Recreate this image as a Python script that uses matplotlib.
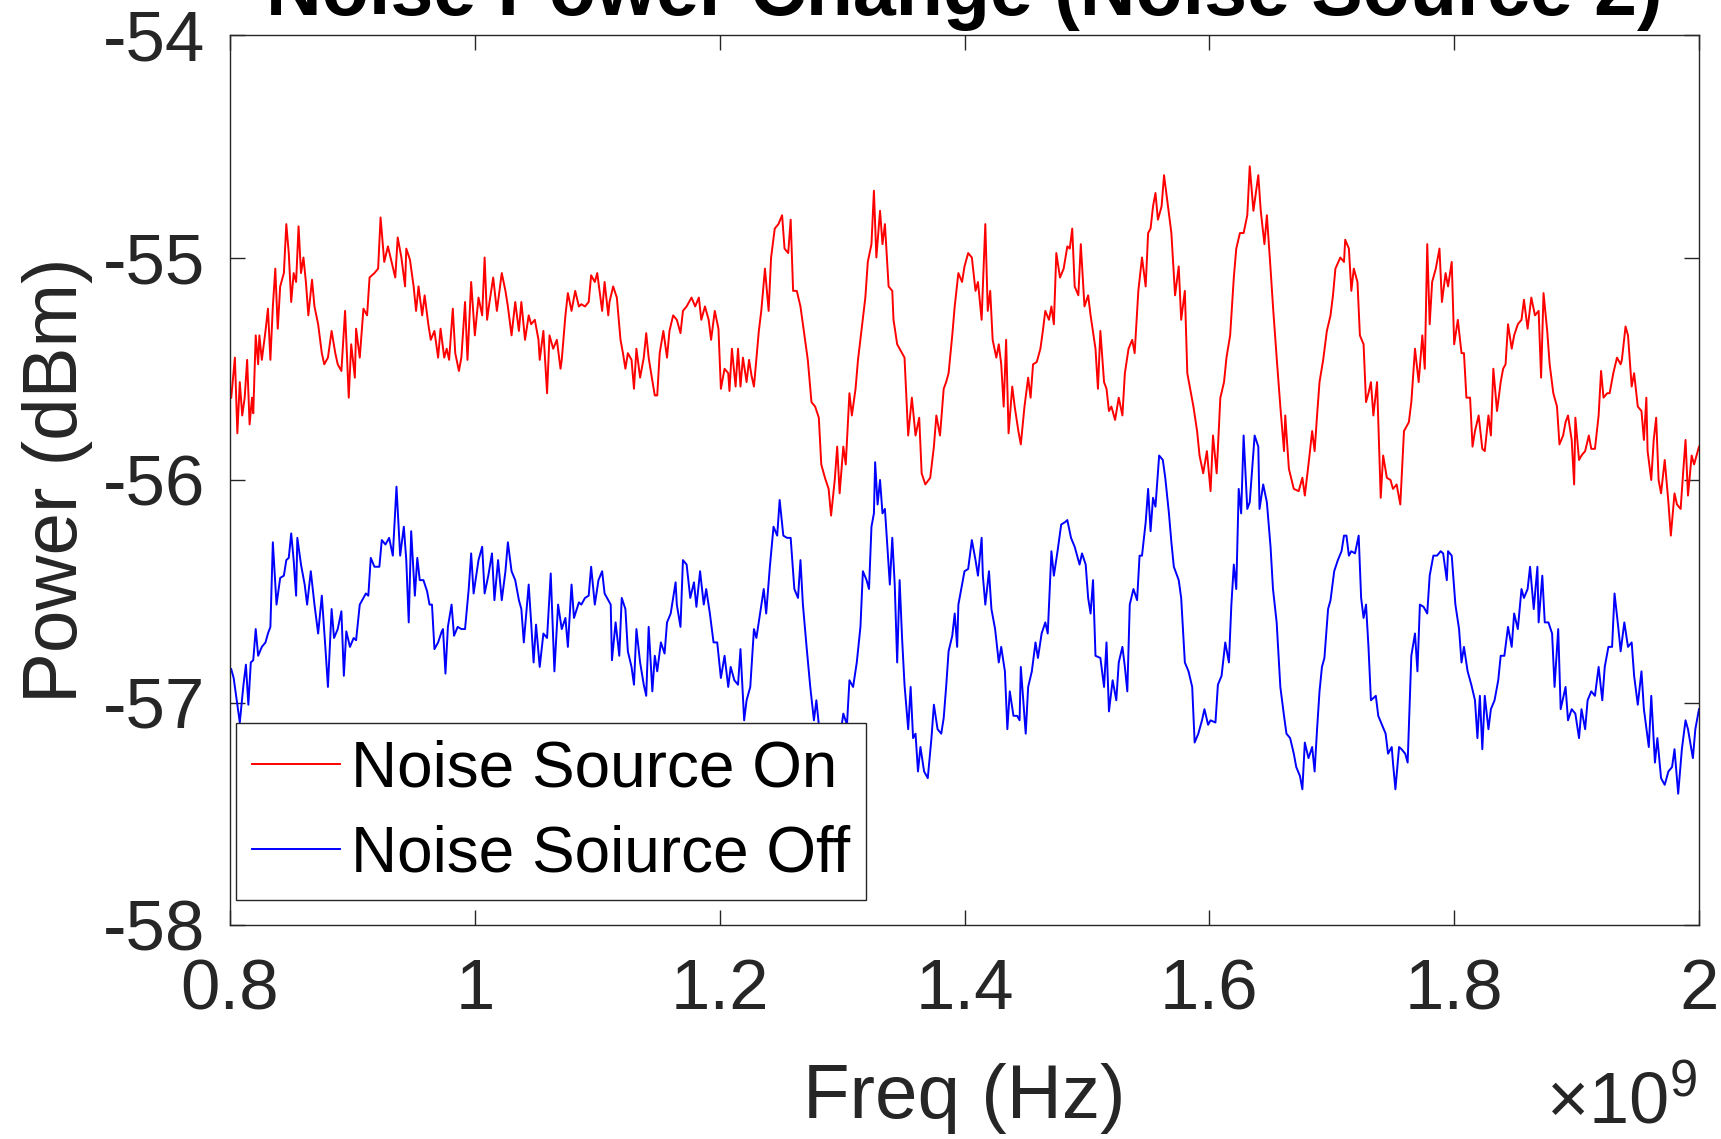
import numpy as np
import matplotlib.pyplot as plt
from matplotlib.ticker import FuncFormatter

plt.rcParams['font.family'] = ['Liberation Sans', 'DejaVu Sans']
plt.rcParams['mathtext.fontset'] = 'custom'
plt.rcParams['mathtext.rm'] = 'Liberation Sans'

# frecuencias en GHz (se pasan a Hz al graficar), potencia en dBm
freq_on = [
    0.801, 0.804, 0.806, 0.808, 0.810, 0.812, 0.814, 0.816, 0.818, 0.819, 0.821, 0.823, 0.824, 0.826, 0.829,
    0.831, 0.833, 0.835, 0.837, 0.839, 0.841, 0.844, 0.846, 0.848, 0.850, 0.852, 0.854, 0.856, 0.858, 0.860,
    0.862, 0.864, 0.867, 0.869, 0.872, 0.875, 0.877, 0.880, 0.883, 0.886, 0.888, 0.891, 0.894, 0.897, 0.899,
    0.902, 0.903, 0.906, 0.909, 0.912, 0.914, 0.918, 0.921, 0.923, 0.926, 0.929, 0.932, 0.935, 0.937, 0.940,
    0.943, 0.944, 0.947, 0.950, 0.952, 0.954, 0.957, 0.959, 0.962, 0.964, 0.967, 0.970, 0.972, 0.975, 0.977,
    0.979, 0.982, 0.984, 0.987, 0.989, 0.992, 0.994, 0.997, 1.000, 1.003, 1.006, 1.008, 1.010, 1.012, 1.015,
    1.018, 1.022, 1.025, 1.027, 1.030, 1.033, 1.036, 1.038, 1.041, 1.044, 1.046, 1.049, 1.052, 1.053, 1.056,
    1.059, 1.061, 1.064, 1.067, 1.070, 1.071, 1.074, 1.076, 1.079, 1.082, 1.085, 1.087, 1.090, 1.093, 1.095,
    1.098, 1.100, 1.104, 1.106, 1.109, 1.110, 1.113, 1.116, 1.119, 1.121, 1.123, 1.125, 1.128, 1.130, 1.132,
    1.135, 1.138, 1.140, 1.142, 1.144, 1.147, 1.149, 1.151, 1.154, 1.157, 1.159, 1.162, 1.165, 1.168, 1.170,
    1.173, 1.177, 1.180, 1.183, 1.185, 1.188, 1.191, 1.193, 1.196, 1.199, 1.201, 1.204, 1.207, 1.208, 1.210,
    1.213, 1.215, 1.217, 1.219, 1.222, 1.224, 1.226, 1.228, 1.232, 1.234, 1.237, 1.240, 1.242, 1.245, 1.248,
    1.251, 1.253, 1.256, 1.258, 1.260, 1.263, 1.266, 1.268, 1.272, 1.275, 1.278, 1.281, 1.283, 1.286, 1.289,
    1.291, 1.294, 1.296, 1.298, 1.301, 1.303, 1.306, 1.308, 1.311, 1.313, 1.316, 1.319, 1.321, 1.324, 1.326,
    1.328, 1.331, 1.333, 1.335, 1.338, 1.341, 1.342, 1.345, 1.347, 1.351, 1.354, 1.357, 1.360, 1.363, 1.365,
    1.368, 1.372, 1.375, 1.377, 1.380, 1.383, 1.385, 1.387, 1.390, 1.392, 1.395, 1.398, 1.400, 1.403, 1.406,
    1.409, 1.411, 1.414, 1.415, 1.417, 1.419, 1.421, 1.423, 1.426, 1.428, 1.430, 1.432, 1.434, 1.436, 1.439,
    1.441, 1.444, 1.446, 1.449, 1.452, 1.454, 1.456, 1.459, 1.462, 1.464, 1.466, 1.469, 1.471, 1.473, 1.475,
    1.478, 1.481, 1.484, 1.486, 1.488, 1.490, 1.493, 1.495, 1.498, 1.501, 1.503, 1.507, 1.509, 1.511, 1.514,
    1.516, 1.518, 1.520, 1.523, 1.526, 1.529, 1.531, 1.534, 1.537, 1.539, 1.542, 1.545, 1.548, 1.550, 1.552,
    1.554, 1.556, 1.558, 1.561, 1.563, 1.566, 1.569, 1.572, 1.575, 1.577, 1.580, 1.582, 1.584, 1.587, 1.590,
    1.592, 1.595, 1.598, 1.601, 1.603, 1.606, 1.609, 1.612, 1.614, 1.617, 1.620, 1.622, 1.625, 1.628, 1.631,
    1.633, 1.636, 1.640, 1.642, 1.645, 1.647, 1.650, 1.652, 1.655, 1.658, 1.661, 1.662, 1.665, 1.669, 1.673,
    1.676, 1.678, 1.681, 1.684, 1.686, 1.688, 1.690, 1.693, 1.696, 1.699, 1.701, 1.703, 1.707, 1.710, 1.711,
    1.714, 1.716, 1.718, 1.721, 1.723, 1.726, 1.728, 1.730, 1.732, 1.734, 1.737, 1.740, 1.742, 1.745, 1.748,
    1.750, 1.753, 1.756, 1.759, 1.763, 1.765, 1.768, 1.771, 1.774, 1.776, 1.778, 1.780, 1.782, 1.785, 1.788,
    1.790, 1.793, 1.795, 1.798, 1.800, 1.803, 1.806, 1.808, 1.810, 1.813, 1.815, 1.817, 1.820, 1.823, 1.825,
    1.828, 1.830, 1.832, 1.835, 1.838, 1.840, 1.842, 1.844, 1.847, 1.849, 1.852, 1.855, 1.857, 1.860, 1.863,
    1.866, 1.869, 1.871, 1.873, 1.876, 1.878, 1.881, 1.884, 1.886, 1.889, 1.891, 1.893, 1.896, 1.898, 1.899,
    1.902, 1.904, 1.907, 1.910, 1.912, 1.915, 1.918, 1.920, 1.922, 1.925, 1.927, 1.930, 1.933, 1.936, 1.937,
    1.940, 1.942, 1.945, 1.947, 1.950, 1.953, 1.955, 1.957, 1.958, 1.961, 1.963, 1.965, 1.967, 1.969, 1.972,
    1.975, 1.977, 1.980, 1.982, 1.985, 1.987, 1.989, 1.991, 1.994, 1.996, 2.000,
]
power_on = [
    -55.63, -55.45, -55.79, -55.56, -55.71, -55.63, -55.46, -55.75, -55.63, -55.70, -55.35, -55.48, -55.35, -55.46, -55.33,
    -55.23, -55.46, -55.22, -55.05, -55.32, -55.13, -55.07, -54.85, -54.98, -55.20, -55.07, -55.11, -54.86, -55.07, -55.00,
    -55.11, -55.26, -55.10, -55.22, -55.30, -55.43, -55.48, -55.45, -55.33, -55.43, -55.48, -55.51, -55.24, -55.63, -55.39,
    -55.54, -55.32, -55.45, -55.23, -55.26, -55.09, -55.07, -55.05, -54.82, -55.02, -54.95, -55.02, -55.09, -54.91, -55.00,
    -55.13, -54.96, -55.01, -55.13, -55.24, -55.13, -55.26, -55.17, -55.30, -55.37, -55.33, -55.45, -55.32, -55.45, -55.41,
    -55.46, -55.23, -55.43, -55.51, -55.45, -55.20, -55.46, -55.11, -55.35, -55.18, -55.26, -55.00, -55.28, -55.20, -55.09,
    -55.24, -55.07, -55.15, -55.22, -55.35, -55.20, -55.33, -55.20, -55.37, -55.26, -55.30, -55.28, -55.37, -55.46, -55.33,
    -55.61, -55.35, -55.41, -55.37, -55.50, -55.46, -55.26, -55.16, -55.24, -55.15, -55.22, -55.21, -55.22, -55.20, -55.08,
    -55.11, -55.07, -55.24, -55.11, -55.26, -55.20, -55.13, -55.18, -55.37, -55.43, -55.50, -55.43, -55.46, -55.59, -55.41,
    -55.54, -55.45, -55.34, -55.45, -55.52, -55.62, -55.62, -55.43, -55.33, -55.45, -55.33, -55.26, -55.28, -55.34, -55.24,
    -55.22, -55.18, -55.22, -55.18, -55.28, -55.22, -55.28, -55.37, -55.24, -55.32, -55.59, -55.50, -55.52, -55.60, -55.41,
    -55.58, -55.41, -55.58, -55.45, -55.56, -55.46, -55.53, -55.58, -55.33, -55.24, -55.05, -55.24, -55.00, -54.87, -54.85,
    -54.81, -54.96, -54.98, -54.83, -55.15, -55.15, -55.22, -55.30, -55.46, -55.65, -55.67, -55.72, -55.93, -55.99, -56.04,
    -56.16, -56.00, -55.85, -56.06, -55.85, -55.93, -55.61, -55.71, -55.59, -55.46, -55.32, -55.18, -55.02, -54.94, -54.70,
    -55.00, -54.79, -54.94, -54.85, -55.13, -55.15, -55.28, -55.39, -55.41, -55.45, -55.80, -55.63, -55.80, -55.72, -55.97,
    -56.02, -55.99, -55.85, -55.71, -55.80, -55.59, -55.56, -55.52, -55.35, -55.22, -55.07, -55.11, -55.04, -54.98, -55.00,
    -55.15, -55.11, -55.28, -55.13, -54.85, -55.24, -55.15, -55.37, -55.45, -55.39, -55.48, -55.67, -55.37, -55.79, -55.58,
    -55.67, -55.78, -55.84, -55.67, -55.54, -55.63, -55.48, -55.47, -55.41, -55.33, -55.24, -55.28, -55.22, -55.30, -54.98,
    -55.09, -55.05, -54.95, -54.96, -54.87, -55.13, -55.17, -54.94, -55.22, -55.17, -55.26, -55.41, -55.59, -55.33, -55.56,
    -55.59, -55.69, -55.67, -55.73, -55.63, -55.71, -55.52, -55.41, -55.37, -55.43, -55.15, -55.00, -55.13, -54.89, -54.87,
    -54.77, -54.71, -54.83, -54.77, -54.63, -54.76, -54.89, -55.17, -55.04, -55.28, -55.15, -55.52, -55.58, -55.67, -55.78,
    -55.89, -55.97, -55.87, -56.05, -55.80, -55.97, -55.63, -55.56, -55.45, -55.35, -55.09, -54.96, -54.89, -54.89, -54.81,
    -54.59, -54.79, -54.63, -54.79, -54.94, -54.81, -55.05, -55.22, -55.45, -55.67, -55.87, -55.71, -55.95, -56.04, -56.05,
    -55.99, -56.07, -55.93, -55.78, -55.87, -55.71, -55.56, -55.46, -55.33, -55.26, -55.17, -55.05, -55.00, -55.02, -54.92,
    -54.96, -55.15, -55.05, -55.11, -55.35, -55.39, -55.65, -55.61, -55.56, -55.71, -55.56, -56.08, -55.89, -55.99, -56.00,
    -56.04, -56.02, -56.11, -55.78, -55.74, -55.65, -55.41, -55.56, -55.35, -55.50, -54.94, -55.30, -55.11, -55.05, -54.96,
    -55.20, -55.07, -55.13, -55.02, -55.39, -55.28, -55.43, -55.43, -55.63, -55.63, -55.85, -55.78, -55.71, -55.86, -55.87,
    -55.71, -55.80, -55.50, -55.69, -55.56, -55.50, -55.48, -55.30, -55.41, -55.35, -55.30, -55.28, -55.19, -55.32, -55.18,
    -55.26, -55.24, -55.54, -55.16, -55.33, -55.48, -55.61, -55.67, -55.84, -55.80, -55.74, -55.71, -55.82, -56.02, -55.72,
    -55.91, -55.89, -55.87, -55.80, -55.86, -55.86, -55.71, -55.51, -55.63, -55.61, -55.61, -55.52, -55.45, -55.48, -55.46,
    -55.31, -55.35, -55.58, -55.52, -55.67, -55.69, -55.82, -55.63, -55.87, -56.00, -55.82, -55.72, -56.00, -56.06, -55.91,
    -56.10, -56.25, -56.06, -56.11, -56.13, -55.97, -55.82, -56.07, -55.89, -55.93, -55.85,
]

freq_off = [
    0.801, 0.803, 0.805, 0.808, 0.811, 0.813, 0.815, 0.817, 0.819, 0.821, 0.823, 0.826, 0.829, 0.831, 0.833,
    0.835, 0.838, 0.841, 0.844, 0.846, 0.848, 0.850, 0.852, 0.854, 0.855, 0.858, 0.861, 0.863, 0.866, 0.869,
    0.872, 0.875, 0.878, 0.880, 0.883, 0.885, 0.888, 0.891, 0.893, 0.895, 0.898, 0.901, 0.903, 0.906, 0.908,
    0.911, 0.913, 0.915, 0.918, 0.922, 0.924, 0.927, 0.930, 0.933, 0.936, 0.939, 0.942, 0.944, 0.946, 0.948,
    0.951, 0.953, 0.955, 0.958, 0.961, 0.963, 0.965, 0.967, 0.970, 0.973, 0.974, 0.976, 0.978, 0.981, 0.983,
    0.986, 0.989, 0.992, 0.995, 0.997, 0.999, 1.003, 1.006, 1.008, 1.011, 1.014, 1.016, 1.019, 1.022, 1.025,
    1.027, 1.030, 1.033, 1.036, 1.038, 1.040, 1.044, 1.046, 1.048, 1.050, 1.053, 1.056, 1.059, 1.062, 1.065,
    1.068, 1.071, 1.074, 1.076, 1.079, 1.081, 1.085, 1.087, 1.090, 1.093, 1.095, 1.098, 1.101, 1.104, 1.106,
    1.109, 1.111, 1.112, 1.115, 1.118, 1.120, 1.123, 1.125, 1.128, 1.130, 1.132, 1.135, 1.138, 1.140, 1.142,
    1.145, 1.147, 1.149, 1.152, 1.155, 1.157, 1.160, 1.164, 1.165, 1.168, 1.170, 1.173, 1.176, 1.179, 1.181,
    1.184, 1.187, 1.189, 1.192, 1.195, 1.198, 1.201, 1.204, 1.207, 1.209, 1.212, 1.215, 1.217, 1.220, 1.222,
    1.225, 1.228, 1.230, 1.233, 1.236, 1.238, 1.241, 1.244, 1.247, 1.249, 1.252, 1.255, 1.258, 1.261, 1.264,
    1.266, 1.268, 1.271, 1.274, 1.277, 1.279, 1.281, 1.283, 1.289, 1.292, 1.296, 1.301, 1.304, 1.306, 1.309,
    1.312, 1.315, 1.317, 1.320, 1.322, 1.324, 1.326, 1.327, 1.329, 1.331, 1.333, 1.335, 1.337, 1.339, 1.341,
    1.343, 1.345, 1.347, 1.349, 1.351, 1.354, 1.356, 1.358, 1.360, 1.362, 1.364, 1.367, 1.370, 1.373, 1.375,
    1.378, 1.381, 1.383, 1.385, 1.387, 1.390, 1.392, 1.394, 1.395, 1.398, 1.400, 1.403, 1.406, 1.409, 1.411,
    1.414, 1.415, 1.417, 1.420, 1.422, 1.425, 1.428, 1.430, 1.433, 1.435, 1.437, 1.440, 1.443, 1.445, 1.446,
    1.450, 1.452, 1.455, 1.458, 1.460, 1.463, 1.466, 1.468, 1.471, 1.473, 1.476, 1.479, 1.482, 1.484, 1.487,
    1.490, 1.494, 1.496, 1.499, 1.501, 1.503, 1.505, 1.507, 1.511, 1.514, 1.516, 1.518, 1.521, 1.524, 1.526,
    1.529, 1.531, 1.533, 1.535, 1.538, 1.541, 1.543, 1.545, 1.548, 1.550, 1.552, 1.554, 1.556, 1.559, 1.562,
    1.564, 1.567, 1.569, 1.571, 1.575, 1.577, 1.580, 1.583, 1.586, 1.588, 1.591, 1.594, 1.596, 1.599, 1.601,
    1.605, 1.607, 1.610, 1.613, 1.616, 1.618, 1.620, 1.622, 1.624, 1.626, 1.628, 1.631, 1.633, 1.637, 1.640,
    1.641, 1.644, 1.647, 1.650, 1.652, 1.655, 1.658, 1.661, 1.663, 1.666, 1.669, 1.671, 1.674, 1.676, 1.678,
    1.681, 1.684, 1.686, 1.688, 1.690, 1.692, 1.694, 1.697, 1.699, 1.702, 1.705, 1.708, 1.710, 1.712, 1.714,
    1.716, 1.719, 1.722, 1.724, 1.726, 1.728, 1.730, 1.732, 1.736, 1.738, 1.741, 1.744, 1.746, 1.749, 1.750,
    1.752, 1.755, 1.757, 1.760, 1.762, 1.765, 1.768, 1.770, 1.772, 1.775, 1.778, 1.780, 1.783, 1.786, 1.789,
    1.791, 1.794, 1.795, 1.798, 1.801, 1.804, 1.806, 1.808, 1.811, 1.814, 1.817, 1.819, 1.821, 1.823, 1.825,
    1.828, 1.830, 1.833, 1.836, 1.838, 1.841, 1.844, 1.847, 1.849, 1.852, 1.855, 1.857, 1.860, 1.862, 1.865,
    1.868, 1.869, 1.872, 1.874, 1.877, 1.880, 1.882, 1.885, 1.887, 1.891, 1.893, 1.896, 1.899, 1.902, 1.904,
    1.907, 1.909, 1.912, 1.915, 1.918, 1.921, 1.923, 1.926, 1.929, 1.931, 1.934, 1.936, 1.939, 1.942, 1.945,
    1.947, 1.950, 1.953, 1.955, 1.959, 1.961, 1.964, 1.966, 1.969, 1.972, 1.975, 1.978, 1.980, 1.983, 1.986,
    1.989, 1.991, 1.995, 1.997, 2.000,
]
power_off = [
    -56.85, -56.89, -56.97, -57.09, -56.92, -56.83, -57.01, -56.82, -56.81, -56.67, -56.79, -56.75, -56.73, -56.69, -56.66,
    -56.28, -56.56, -56.44, -56.43, -56.36, -56.35, -56.24, -56.36, -56.52, -56.26, -56.38, -56.47, -56.56, -56.41, -56.56,
    -56.69, -56.52, -56.76, -56.93, -56.58, -56.71, -56.67, -56.59, -56.88, -56.68, -56.75, -56.71, -56.72, -56.56, -56.54,
    -56.51, -56.52, -56.35, -56.39, -56.39, -56.27, -56.29, -56.26, -56.34, -56.03, -56.34, -56.21, -56.36, -56.64, -56.23,
    -56.52, -56.35, -56.45, -56.45, -56.50, -56.56, -56.56, -56.76, -56.73, -56.68, -56.67, -56.87, -56.66, -56.56, -56.70,
    -56.66, -56.67, -56.67, -56.49, -56.33, -56.51, -56.36, -56.30, -56.51, -56.43, -56.33, -56.54, -56.36, -56.54, -56.41,
    -56.28, -56.41, -56.45, -56.54, -56.58, -56.73, -56.47, -56.64, -56.82, -56.65, -56.84, -56.69, -56.71, -56.42, -56.86,
    -56.56, -56.67, -56.62, -56.75, -56.47, -56.62, -56.55, -56.56, -56.53, -56.52, -56.39, -56.56, -56.45, -56.41, -56.51,
    -56.54, -56.56, -56.81, -56.64, -56.79, -56.53, -56.58, -56.77, -56.84, -56.92, -56.67, -56.82, -56.92, -56.97, -56.66,
    -56.95, -56.79, -56.86, -56.73, -56.78, -56.64, -56.60, -56.46, -56.56, -56.66, -56.36, -56.38, -56.53, -56.46, -56.57,
    -56.41, -56.56, -56.49, -56.60, -56.73, -56.73, -56.89, -56.79, -56.93, -56.84, -56.90, -56.92, -56.76, -57.08, -56.99,
    -56.93, -56.67, -56.71, -56.60, -56.49, -56.60, -56.39, -56.21, -56.25, -56.09, -56.25, -56.26, -56.26, -56.49, -56.53,
    -56.36, -56.56, -56.75, -56.93, -57.08, -56.99, -57.10, -57.21, -57.29, -57.31, -57.25, -57.05, -57.10, -56.90, -56.93,
    -56.82, -56.66, -56.41, -56.45, -56.49, -56.21, -56.15, -55.92, -56.11, -56.00, -56.15, -56.13, -56.30, -56.47, -56.26,
    -56.47, -56.82, -56.45, -56.71, -56.92, -57.12, -56.93, -57.16, -57.14, -57.31, -57.20, -57.31, -57.34, -57.16, -57.01,
    -57.12, -57.14, -57.07, -56.93, -56.77, -56.70, -56.60, -56.75, -56.56, -56.47, -56.41, -56.40, -56.27, -56.36, -56.43,
    -56.26, -56.43, -56.56, -56.41, -56.58, -56.67, -56.82, -56.75, -56.86, -57.12, -56.95, -57.06, -57.06, -57.08, -56.84,
    -57.14, -56.93, -56.86, -56.73, -56.80, -56.69, -56.64, -56.69, -56.32, -56.43, -56.32, -56.20, -56.19, -56.18, -56.26,
    -56.30, -56.38, -56.33, -56.38, -56.53, -56.60, -56.45, -56.79, -56.80, -56.93, -56.73, -57.04, -56.90, -56.99, -56.82,
    -56.75, -56.84, -56.95, -56.56, -56.49, -56.54, -56.34, -56.34, -56.19, -56.04, -56.23, -56.08, -56.12, -55.89, -55.91,
    -55.99, -56.15, -56.28, -56.39, -56.45, -56.53, -56.82, -56.86, -56.93, -57.18, -57.14, -57.08, -57.03, -57.10, -57.08,
    -57.09, -56.92, -56.88, -56.73, -56.82, -56.56, -56.38, -56.49, -56.04, -56.15, -55.80, -56.13, -56.10, -55.80, -55.85,
    -56.13, -56.02, -56.10, -56.30, -56.49, -56.64, -56.93, -57.06, -57.14, -57.16, -57.23, -57.29, -57.33, -57.39, -57.18,
    -57.25, -57.20, -57.31, -57.12, -56.95, -56.84, -56.80, -56.58, -56.54, -56.41, -56.36, -56.32, -56.25, -56.25, -56.34,
    -56.32, -56.33, -56.25, -56.53, -56.62, -56.56, -56.75, -56.99, -56.97, -57.06, -57.10, -57.14, -57.23, -57.20, -57.27,
    -57.39, -57.20, -57.21, -57.23, -57.27, -56.79, -56.69, -56.86, -56.56, -56.57, -56.60, -56.43, -56.34, -56.34, -56.32,
    -56.33, -56.45, -56.32, -56.34, -56.56, -56.67, -56.82, -56.75, -56.86, -56.92, -56.99, -57.16, -56.97, -57.21, -56.97,
    -57.12, -57.03, -56.99, -56.90, -56.79, -56.79, -56.66, -56.75, -56.60, -56.67, -56.49, -56.53, -56.49, -56.39, -56.58,
    -56.39, -56.64, -56.43, -56.64, -56.64, -56.69, -56.93, -56.67, -57.03, -56.93, -57.08, -57.03, -57.05, -57.16, -57.03,
    -57.12, -56.99, -56.95, -56.97, -56.84, -56.99, -56.84, -56.75, -56.75, -56.51, -56.66, -56.77, -56.64, -56.75, -56.73,
    -56.88, -57.01, -56.86, -57.03, -57.20, -56.97, -57.27, -57.16, -57.34, -57.37, -57.31, -57.29, -57.21, -57.41, -57.21,
    -57.08, -57.12, -57.25, -57.12, -57.03,
]

xticks = [0.8, 1.0, 1.2, 1.4, 1.6, 1.8, 2.0]
yticks = [-58, -57, -56, -55, -54]

W, H = 1721, 1139
fig = plt.figure(figsize=(W / 100, H / 100), dpi=100)
# caja de ejes en pixeles: izq 230, der 1699, arriba 35, abajo 925
ax = fig.add_axes([230 / W, 1 - 925 / H, 1469 / W, 890 / H])

f_on = np.array(freq_on) * 1e9
f_off = np.array(freq_off) * 1e9
ax.plot(f_on, power_on, color=(1, 0, 0), lw=1.4, label='Noise Source On')
ax.plot(f_off, power_off, color=(0, 0, 1), lw=1.4, label='Noise Soiurce Off')

ax.set_xlim(0.8e9, 2.0e9)
ax.set_ylim(-58, -54)
ax.set_xticks([t * 1e9 for t in xticks])
ax.set_yticks(yticks)
ax.xaxis.set_major_formatter(FuncFormatter(lambda v, p: f'{v / 1e9:g}'))
ax.yaxis.set_major_formatter(FuncFormatter(lambda v, p: f'{v:g}'.replace('\u2212', '-')))

gris = '#262626'
for s in ax.spines.values():
    s.set_color(gris)
    s.set_linewidth(1.0)
ax.tick_params(direction='in', length=11, width=1.0, color=gris, labelcolor=gris,
               top=True, right=True, labelsize=51)
ax.tick_params(axis='x', pad=24)
ax.tick_params(axis='y', pad=18)

ax.set_xlabel('Freq (Hz)', fontsize=55, color=gris)
ax.set_ylabel('Power (dBm)', fontsize=55, color=gris)
ax.xaxis.set_label_coords(0.5, -0.155)
ax.yaxis.set_label_coords(-0.093, 0.5)

fig.text(964.5 / W, 1 - 15 / H, 'Noise Power Change (Noise Source 2)', fontsize=55.5,
         fontweight='bold', ha='center', va='baseline', color='black')
fig.text(1697 / W, 1 - 1138 / H, r'$\mathregular{\times10^{9}}$', fontsize=52, ha='right',
         va='bottom', color=gris)

leg = ax.legend(loc='lower left', bbox_to_anchor=(0.004, 0.028), borderaxespad=0,
                fontsize=46, handlelength=1.38, handletextpad=0.17, borderpad=0.25,
                labelspacing=0.39, fancybox=False, framealpha=1, edgecolor=gris)
leg.get_frame().set_linewidth(1.0)
for t in leg.get_texts():
    t.set_color('black')

fig.savefig('out.png', dpi=100)
